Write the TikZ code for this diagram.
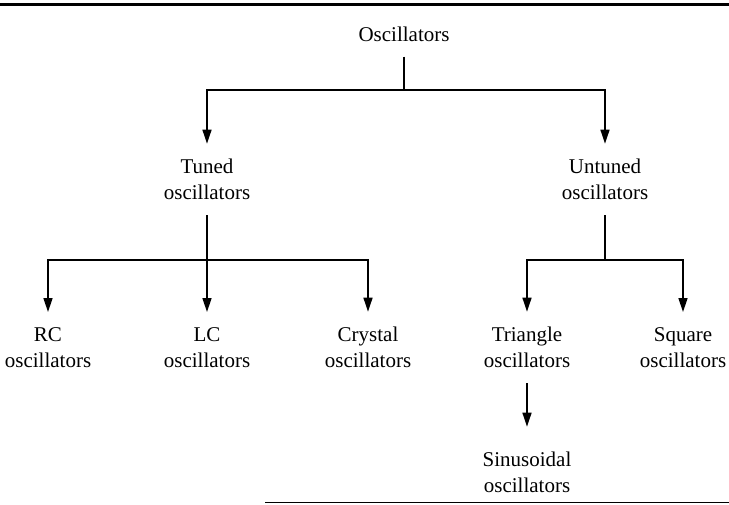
\documentclass[tikz,border=0pt]{standalone}
\usepackage{fontspec}
\setmainfont{Liberation Serif}
\usetikzlibrary{arrows.meta}

\begin{document}
\begin{tikzpicture}[
    x=1pt, y=-1pt,
    >={Triangle[length=14pt, width=9pt]},
    lbl/.style={
        font=\fontsize{21}{26.5}\selectfont, align=center,
        inner xsep=0pt, inner ysep=15pt
    },
    line/.style={line width=1.5pt, color=black},
    arrow/.style={->, line width=1.5pt, color=black},
    rule/.style={line width=#1, color=black}
]

\useasboundingbox (0,0) rectangle (729,504);

% === Page rules ===
\draw[rule=3.5pt] (0,4.5) -- (729,4.5);
\draw[rule=1pt] (265,502) -- (729,502);

% === Nodes ===
\node[lbl] (osc) at (404,34) {Oscillators};

\node[lbl] (tuned)   at (207,179.5) {Tuned\\oscillators};
\node[lbl] (untuned) at (605,179.5) {Untuned\\oscillators};

\node[lbl] (rc)      at (48,347.5)  {RC\\oscillators};
\node[lbl] (lc)      at (207,347.5) {LC\\oscillators};
\node[lbl] (crystal) at (368,347.5) {Crystal\\oscillators};
\node[lbl] (tri)     at (527,347.5) {Triangle\\oscillators};
\node[lbl] (square)  at (683,347.5) {Square\\oscillators};

\node[lbl] (sine)    at (527,472.5) {Sinusoidal\\oscillators};

% junctions
\coordinate (j0) at (404,90);
\coordinate (j1) at (207,260);
\coordinate (j2) at (605,260);

% === Arrows ===

% Oscillators -> Tuned / Untuned
\draw[line] (osc) -- (j0);
\draw[arrow] (j0) -| (tuned);
\draw[arrow] (j0) -| (untuned);

% Tuned -> RC, LC, Crystal
\draw[line] (tuned) -- (j1);
\draw[arrow] (j1) -| (rc);
\draw[arrow] (j1) -- (lc);
\draw[arrow] (j1) -| (crystal);

% Untuned -> Triangle, Square
\draw[line] (untuned) -- (j2);
\draw[arrow] (j2) -| (tri);
\draw[arrow] (j2) -| (square);

% Triangle -> Sinusoidal
\draw[arrow, shorten >=10pt] (tri) -- (sine);

\end{tikzpicture}
\end{document}
